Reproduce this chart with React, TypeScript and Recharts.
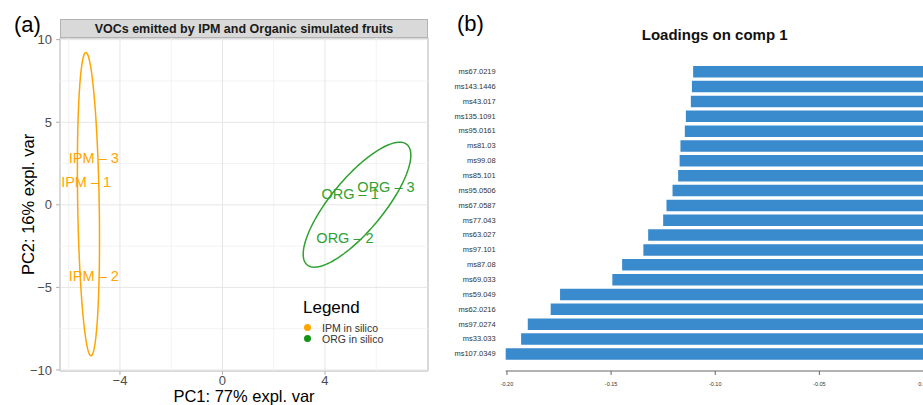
import type { ReactNode } from "react";
import {
	ScatterChart,
	Scatter,
	XAxis,
	YAxis,
	ReferenceLine,
	ReferenceArea,
	BarChart,
	Bar,
} from "recharts";

const FONT = '"Liberation Sans", Arial, Helvetica, sans-serif';

// panel (a): sample scores on PC1 / PC2
const ipm_names = ["IPM – 3", "IPM – 1", "IPM – 2"];
const ipm_pc1 = [-5.02, -5.32, -5.02];
const ipm_pc2 = [2.86, 1.41, -4.29];

const org_names = ["ORG – 1", "ORG – 3", "ORG – 2"];
const org_pc1 = [4.98, 6.38, 4.78];
const org_pc2 = [0.68, 1.1, -1.99];

// confidence ellipses: centre + half-axis vectors
const ipm_ellipse = { cx: -5.23, cy: 0.04, ax: -0.1, ay: 9.18, bx: 0.42, by: 0 };
const org_ellipse = { cx: 5.25, cy: 0.01, ax: 1.95, ay: 3.64, bx: 0.78, by: -1.03 };

const x_major = [-4, 0, 4];
const x_minor = [-6, -2, 2, 6];
const y_major = [-10, -5, 0, 5, 10];
const y_minor = [-7.5, -2.5, 2.5, 7.5];

const legend_items = [
	{ name: "IPM in silico", color: "#FFA500" },
	{ name: "ORG in silico", color: "#139213" },
];

// panel (b): loadings on component 1
const load_names = [
	"ms67.0219",
	"ms143.1446",
	"ms43.017",
	"ms135.1091",
	"ms95.0161",
	"ms81.03",
	"ms99.08",
	"ms85.101",
	"ms95.0506",
	"ms67.0587",
	"ms77.043",
	"ms63.027",
	"ms97.101",
	"ms87.08",
	"ms69.033",
	"ms59.049",
	"ms62.0216",
	"ms97.0274",
	"ms33.033",
	"ms107.0349",
];
const load_values = [
	-0.1106, -0.1112, -0.1117, -0.1141, -0.1146, -0.1167, -0.1171, -0.1178, -0.1205, -0.1234,
	-0.125, -0.1322, -0.1345, -0.1447, -0.1494, -0.1745, -0.179, -0.19, -0.1932, -0.2006,
];
const load_ticks = [-0.2, -0.15, -0.1, -0.05, 0];

const ORANGE = "#FFA500";
const GREEN = "#30A130";

type Ellipse = { cx: number; cy: number; ax: number; ay: number; bx: number; by: number };

function outline(e: Ellipse) {
	const pts = [];
	for (let i = 0; i <= 120; i++) {
		const t = (i / 120) * Math.PI * 2;
		pts.push({
			x: e.cx + e.ax * Math.cos(t) + e.bx * Math.sin(t),
			y: e.cy + e.ay * Math.cos(t) + e.by * Math.sin(t),
		});
	}
	return pts;
}

const ipm_points = ipm_names.map((name, i) => ({ name, x: ipm_pc1[i], y: ipm_pc2[i] }));
const org_points = org_names.map((name, i) => ({ name, x: org_pc1[i], y: org_pc2[i] }));
const load_data = load_names.map((name, i) => ({ name, value: load_values[i] }));

const minus = (v: number) => String(v).replace("-", "\u2212");

const textShape = (color: string) => (props: any) => (
	<text
		x={props.cx}
		y={props.cy}
		textAnchor="middle"
		dominantBaseline="central"
		fill={color}
		fontSize={14.5}
	>
		{props.payload.name}
	</text>
);

const noShape = () => <g />;

function PcaPanel(): ReactNode {
	return (
		<div style={{ position: "absolute", left: 0, top: 0, width: 440, height: 405 }}>
			<div style={{ position: "absolute", left: 14, top: 12, fontSize: 22 }}>(a)</div>
			<div
				style={{
					position: "absolute",
					left: 60,
					top: 19,
					width: 366,
					height: 17,
					background: "#d9d9d9",
					border: "1px solid #b3b3b3",
					fontSize: 12.5,
					fontWeight: "bold",
					color: "#1a1a1a",
					textAlign: "center",
					lineHeight: "18px",
				}}
			>
				VOCs emitted by IPM and Organic simulated fruits
			</div>
			<ScatterChart width={440} height={405} margin={{ top: 38, right: 12, bottom: 0, left: 0 }}>
				<XAxis
					type="number"
					dataKey="x"
					domain={[-6.34, 8.02]}
					ticks={x_major}
					tickFormatter={minus}
					allowDataOverflow
					height={34}
					axisLine={false}
					tickLine={{ stroke: "#b3b3b3" }}
					tickSize={4}
					tickMargin={1}
					tick={{ fill: "#4d4d4d", fontSize: 13 }}
					label={{ value: "PC1: 77% expl. var", position: "insideBottom", offset: 3, fill: "#000", fontSize: 16.5 }}
				/>
				<YAxis
					type="number"
					dataKey="y"
					domain={[-10.06, 10.1]}
					ticks={y_major}
					tickFormatter={minus}
					allowDataOverflow
					width={60}
					axisLine={false}
					tickLine={{ stroke: "#b3b3b3" }}
					tickSize={4}
					tickMargin={4}
					tick={{ fill: "#4d4d4d", fontSize: 13 }}
					label={{ value: "PC2: 16% expl. var", angle: -90, position: "center", dx: -2, fill: "#000", fontSize: 16.5 }}
				/>
				{x_minor.map((v) => (
					<ReferenceLine key={"xm" + v} x={v} stroke="#f3f3f3" strokeWidth={1} />
				))}
				{y_minor.map((v) => (
					<ReferenceLine key={"ym" + v} y={v} stroke="#f3f3f3" strokeWidth={1} />
				))}
				{x_major.map((v) => (
					<ReferenceLine key={"xM" + v} x={v} stroke="#e6e6e6" strokeWidth={1} />
				))}
				{y_major.map((v) => (
					<ReferenceLine key={"yM" + v} y={v} stroke="#e6e6e6" strokeWidth={1} />
				))}
				<ReferenceArea x1={-6.34} x2={8.02} y1={-10.06} y2={10.1} fill="none" stroke="#b3b3b3" />
				<Scatter
					data={outline(ipm_ellipse)}
					line={{ stroke: ORANGE, strokeWidth: 1.5 }}
					shape={noShape}
					isAnimationActive={false}
				/>
				<Scatter
					data={outline(org_ellipse)}
					line={{ stroke: GREEN, strokeWidth: 1.5 }}
					shape={noShape}
					isAnimationActive={false}
				/>
				<Scatter data={ipm_points} shape={textShape(ORANGE)} isAnimationActive={false} />
				<Scatter data={org_points} shape={textShape(GREEN)} isAnimationActive={false} />
			</ScatterChart>
			<div style={{ position: "absolute", left: 303, top: 298 }}>
				<div style={{ fontSize: 17, color: "#000", marginBottom: 4 }}>Legend</div>
				{legend_items.map((it) => (
					<div key={it.name} style={{ display: "flex", alignItems: "center", height: 11, fontSize: 10.5, color: "#333" }}>
						<span
							style={{
								display: "inline-block",
								width: 7,
								height: 7,
								borderRadius: "50%",
								background: it.color,
								marginLeft: 1,
								marginRight: 11,
							}}
						/>
						{it.name}
					</div>
				))}
			</div>
		</div>
	);
}

function LoadingsPanel(): ReactNode {
	return (
		<div style={{ position: "absolute", left: 440, top: 0, width: 483, height: 405, overflow: "hidden" }}>
			<div style={{ position: "absolute", left: 17, top: 11, fontSize: 22 }}>(b)</div>
			<div
				style={{
					position: "absolute",
					left: 65.7,
					top: 26,
					width: 418,
					textAlign: "center",
					fontSize: 15,
					fontWeight: "bold",
					color: "#111",
				}}
			>
				Loadings on comp 1
			</div>
			<BarChart
				width={490}
				height={405}
				layout="vertical"
				data={load_data}
				margin={{ top: 64, right: 6.5, bottom: 0, left: 0 }}
			>
				<XAxis
					type="number"
					dataKey="value"
					domain={[-0.2006, 0]}
					ticks={load_ticks}
					tickFormatter={(v: number) => v.toFixed(2)}
					height={34}
					axisLine={{ stroke: "#666" }}
					tickLine={{ stroke: "#666" }}
					tickSize={4}
					tickMargin={7}
					tick={{ fill: "#333", fontSize: 5.5 }}
				/>
				<YAxis
					type="category"
					dataKey="name"
					width={65.7}
					padding={{ top: 0, bottom: 10 }}
					axisLine={false}
					tickLine={false}
					tickSize={0}
					tickMargin={10}
					interval={0}
					tick={{ fill: "#333", fontSize: 7.5 }}
				/>
				<Bar dataKey="value" fill="#3A8BCD" barSize={11.5} isAnimationActive={false} />
			</BarChart>
		</div>
	);
}

export default function App() {
	return (
		<div
			style={{
				position: "absolute",
				left: 0,
				top: 0,
				width: 923,
				height: 405,
				overflow: "hidden",
				background: "#fff",
				fontFamily: FONT,
			}}
		>
			<PcaPanel />
			<LoadingsPanel />
		</div>
	);
}
